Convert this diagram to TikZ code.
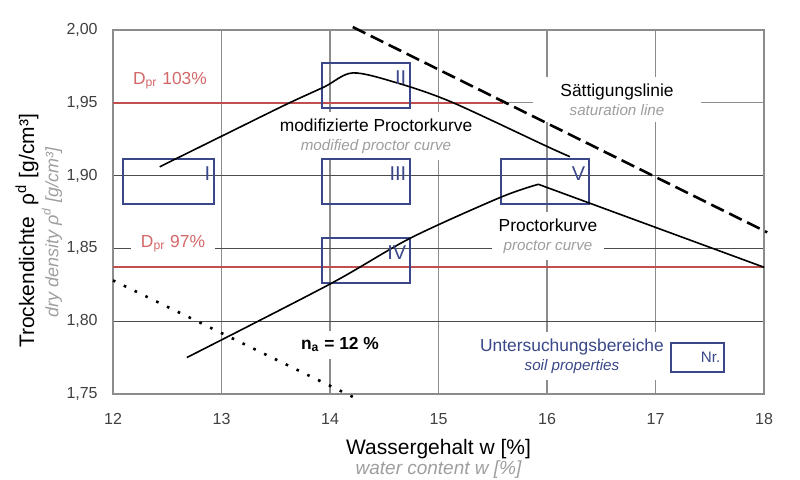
\documentclass[tikz,border=0pt]{standalone}
\usepackage{fontspec}
\setmainfont{Liberation Sans}
\definecolor{zoneblue}{RGB}{58,72,138}
\definecolor{prline}{RGB}{192,80,80}
\definecolor{prtext}{RGB}{212,104,104}
\newcommand{\engl}[1]{{\color{black!38}\fontsize{7.6}{9}\selectfont\itshape #1}}
\begin{document}
\begin{tikzpicture}[x=54.25pt, y=728pt,
		gridh/.style={draw=black!70, line width=0.6pt},
		gridv/.style={draw=black!45, line width=0.6pt},
		curvelabel/.style={fill=white, align=center, font=\fontsize{8.7}{9.5}\selectfont},
		tick/.style={text=black!75, inner sep=0pt, font=\fontsize{8}{9}\selectfont},
		zone/.style={draw=zoneblue, line width=0.75pt, minimum width=44pt, minimum height=22.5pt, inner sep=0pt},
		num/.style={text=zoneblue, anchor=east, inner sep=2pt, yshift=3.7pt, font=\fontsize{10}{10}\selectfont},
		curve/.style={line width=0.8pt, line join=round}]
		\useasboundingbox (10.9585,1.69093) rectangle (18.3318,2.0206);
		% grid and frame
		\foreach \w in {13,...,17}
			\draw[gridv] (\w,1.75) -- (\w,2.00);
		\foreach \d in {1.80,1.85,1.90}
			\draw[gridh] (12,\d) -- (18,\d);
		\draw[gridv] (12,1.95) -- (18,1.95);
		\draw[gridv] (12,1.75) rectangle (18,2.00);
		% ticks
		\foreach \w in {12,...,18}
			\node[tick] (tx\w) at (\w,1.7328) {\w};
		\foreach \d/\t [count=\i] in {1.75/{1,75},1.80/{1,80},1.85/{1,85},1.90/{1,90},1.95/{1,95},2.00/{2,00}}
			\node[tick, anchor=east] (ty\i) at (11.862,\d) {\t};
		% axis titles
		\node[rotate=90, font=\fontsize{10.5}{12}\selectfont] (ytitle) at (11.207,1.862) {Trockendichte\ \ ρ\textsuperscript{d} [g/cm³]};
		\node[rotate=90, text=black!38, font=\itshape\fontsize{9}{10}\selectfont] (ytitleen) at (11.438,1.861) {dry density\ ρ\textsuperscript{d} [g/cm³]};
		\node[font=\fontsize{10.5}{12}\selectfont] (xtitle) at (15,1.7122) {Wassergehalt w [\%]};
		\node[text=black!38, font=\itshape\fontsize{9.5}{11}\selectfont] (xtitleen) at (15,1.6978) {water content w [\%]};
		% labels on the grid
		\node[curvelabel] (lmod) at (14.424,1.9272) {modifizierte Proctorkurve\\\engl{modified proctor curve}};
		\node[curvelabel, minimum width=84pt] (lsat) at (16.645,1.9523) {Sättigungslinie\\\engl{saturation line}};
		\node[curvelabel] (lpro) at (16.009,1.8585) {Proctorkurve\\\engl{proctor curve}};
		\node[curvelabel, text=zoneblue] (lzone) at (16.23,1.7761) {Untersuchungsbereiche\\{\fontsize{7.6}{9}\selectfont\itshape soil properties}};
		\node[curvelabel, text=prtext] (l103) at (12.525,1.965) {D\textsubscript{pr} 103\%};
		\node[curvelabel, text=prtext, inner xsep=5pt] (l97) at (12.553,1.853) {D\textsubscript{pr} 97\%};
		\node[curvelabel, font=\bfseries\fontsize{8.7}{9.5}\selectfont] (lna) at (14.092,1.7837) {n\textsubscript{a} = 12 \%};
		% D_pr lines
		\draw[prline, line width=1pt] (12,1.95) -- (15.59,1.95);
		\draw[prline, line width=1pt] (12,1.837) -- (18,1.837);
		% soil zones
		\node[zone, minimum width=45.5pt] (zI) at (12.51,1.8959) {};
		\node[zone] (zII) at (14.33,1.9619) {};
		\node[zone] (zIII) at (14.33,1.8959) {};
		\node[zone] (zIV) at (14.33,1.8417) {};
		\node[zone] (zV) at (15.98,1.8959) {};
		\node[zone, minimum width=26.5pt, minimum height=14.5pt] (zNr) at (17.387,1.775) {};
		% curves
		\draw[curve] plot[smooth] coordinates {(12.43,1.906) (13.0,1.927) (13.6,1.949) (13.95,1.961) (14.21,1.9705) (14.62,1.9636) (15.12,1.9505) (16.0,1.920) (16.21,1.913)};
		\draw[curve] plot[smooth] coordinates {(12.68,1.775) (14.0,1.8255) (14.74,1.857) (15.57,1.885) (15.92,1.894)} -- (18,1.837);
		\draw[line width=1.3pt, dash pattern=on 7pt off 3pt] (14.21,2.002) -- (18.03,1.861);
		\draw[line width=1.3pt, dash pattern=on 1.3pt off 4.7pt] (12,1.828) -- (14.21,1.748);
		% zone numbers
		\node[num] (nI) at (zI.east) {I};
		\node[num] (nII) at (zII.east) {II};
		\node[num] (nIII) at (zIII.east) {III};
		\node[num] (nIV) at (zIV.east) {IV};
		\node[num] (nV) at (zV.east) {V};
		\node[num, yshift=-3.7pt, font=\fontsize{7.6}{8}\selectfont] (nNr) at (zNr.east) {Nr.};
	\end{tikzpicture}
\end{document}
